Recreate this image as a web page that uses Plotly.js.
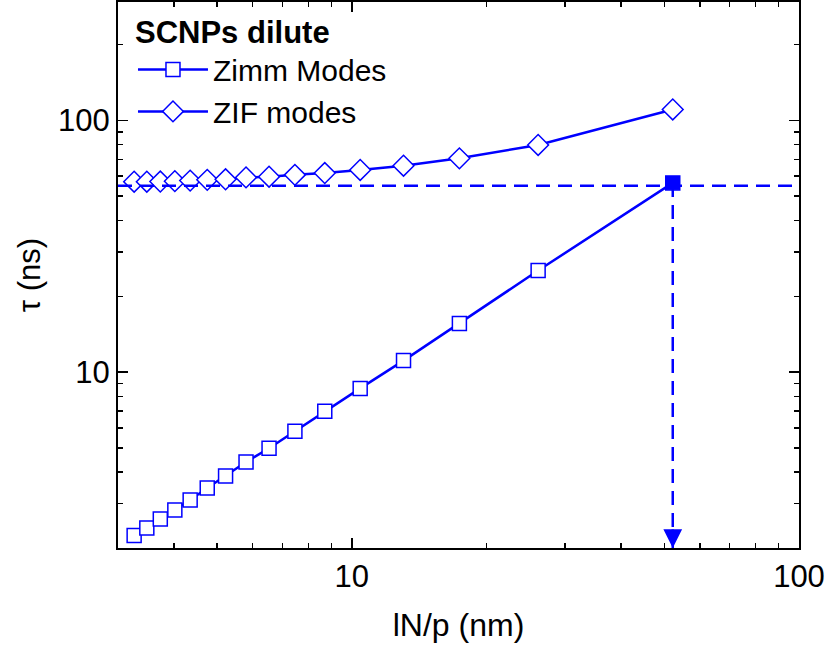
<!DOCTYPE html>
<html>
<head>
<meta charset="utf-8">
<script src="https://cdn.plot.ly/plotly-3.0.1.min.js"></script>
<style>html,body{margin:0;padding:0;background:#fff;}#chart{width:829px;height:654px;}</style>
</head>
<body>
<div id="chart"></div>
<script>
// Length scale lN/p (nm), one value per mode (p = 16 ... 1)
const lengthNm = [3.26, 3.48, 3.73, 4.02, 4.35, 4.75, 5.22, 5.80, 6.53, 7.46, 8.70, 10.44, 13.05, 17.4, 26.1, 52.2];
// Relaxation times tau (ns)
const tauZimm = [2.24, 2.40, 2.61, 2.83, 3.10, 3.46, 3.86, 4.39, 4.98, 5.82, 6.98, 8.61, 11.1, 15.6, 25.3, 56.4];
const tauZIF  = [57.0, 57.0, 57.1, 57.3, 57.6, 58.0, 58.3, 59.3, 59.7, 60.7, 61.7, 63.5, 66.0, 70.6, 79.8, 110.4];
// Guide level (ns) and axis ranges
const guideTau = 55;
const xLimits = [3, 100];
const yLimits = [2, 295];
const seriesNames = ["Zimm Modes", "ZIF modes"];
const legendTitle = "SCNPs dilute";

const BLUE = "#0000ff";
const FONT = "Liberation Sans, Arial, sans-serif";

// highlight the largest-length Zimm mode as filled
const last = lengthNm.length - 1;
const zimmFill = lengthNm.map((v, i) => i === last ? BLUE : "#ffffff");

const traces = [
  {
    x: lengthNm, y: tauZimm, name: seriesNames[0], type: "scatter", mode: "lines+markers",
    line: {color: BLUE, width: 2.5},
    marker: {symbol: "square", size: 14, color: zimmFill, line: {color: BLUE, width: 1.5}}
  },
  {
    x: lengthNm, y: tauZIF, name: seriesNames[1], type: "scatter", mode: "lines+markers",
    line: {color: BLUE, width: 2.5},
    marker: {symbol: "diamond", size: 16, color: "#ffffff", line: {color: BLUE, width: 1.5}}
  },
  {
    x: xLimits, y: [guideTau, guideTau], type: "scatter", mode: "lines", showlegend: false,
    hoverinfo: "skip", line: {color: BLUE, width: 2.5, dash: "14px,8px"}
  },
  {
    x: [lengthNm[last], lengthNm[last]], y: [tauZimm[last], yLimits[0]], type: "scatter",
    mode: "lines", showlegend: false, hoverinfo: "skip", cliponaxis: false,
    line: {color: BLUE, width: 2.5, dash: "14px,8px"}
  }
];

const axisCommon = {
  type: "log", dtick: 1, showgrid: false, zeroline: false,
  showline: true, linecolor: "#000", linewidth: 2, mirror: "allticks",
  ticks: "inside", ticklen: 10, tickwidth: 1.5, tickcolor: "#000",
  minor: {ticks: "inside", ticklen: 5, tickwidth: 1.5, tickcolor: "#000", dtick: "D1"},
  tickfont: {family: FONT, size: 31, color: "#000"}
};

const layout = {
  width: 829, height: 654,
  margin: {l: 118, r: 30, t: 2, b: 106},
  paper_bgcolor: "#fff", plot_bgcolor: "#fff",
  font: {family: FONT, color: "#000"},
  xaxis: Object.assign({}, axisCommon, {
    range: [Math.log10(xLimits[0]), Math.log10(xLimits[1])],
    title: {text: "lN/p (nm)", font: {family: FONT, size: 32, color: "#000"}, standoff: 20}
  }),
  yaxis: Object.assign({}, axisCommon, {
    range: [Math.log10(yLimits[0]), Math.log10(yLimits[1])],
    title: {text: "τ (ns)", font: {family: FONT, size: 31, color: "#000"}, standoff: 8}
  }),
  annotations: [{
    x: Math.log10(lengthNm[last]), y: Math.log10(yLimits[0]), xref: "x", yref: "y",
    ax: 0, ay: -20, text: "", showarrow: true, arrowhead: 2, arrowsize: 1.5,
    arrowwidth: 2.5, arrowcolor: BLUE, standoff: -4
  }],
  showlegend: true,
  legend: {
    x: 0.022, y: 0.998, xanchor: "left", yanchor: "top",
    bgcolor: "rgba(0,0,0,0)", borderwidth: 0,
    font: {family: FONT, size: 30, color: "#000"},
    title: {text: "<b>" + legendTitle + "</b>", font: {family: FONT, size: 31, color: "#000"}},
    itemwidth: 70, tracegroupgap: 0
  }
};

Plotly.newPlot("chart", traces, layout, {displayModeBar: false, staticPlot: true});
</script>
</body>
</html>
